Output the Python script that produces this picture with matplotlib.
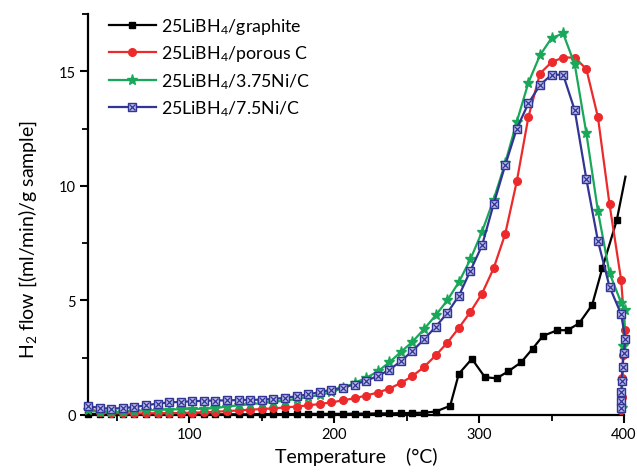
import matplotlib
matplotlib.use('Agg')
import matplotlib.pyplot as plt
from matplotlib.ticker import MultipleLocator

plt.rcParams['font.family'] = ['Lato', 'DejaVu Sans']
plt.rcParams['mathtext.fontset'] = 'custom'
plt.rcParams['mathtext.rm'] = 'Lato'
plt.rcParams['mathtext.it'] = 'Lato:italic'

# Temperature grid shared by the three carbon/Ni samples (deg C)
temp = [30, 38, 46, 54, 62, 70, 78, 86, 94, 102, 110, 118, 126, 134, 142, 150,
        158, 166, 174, 182, 190, 198, 206, 214, 222, 230, 238, 246, 254, 262,
        270, 278, 286, 294, 302, 310, 318, 326, 334, 342, 350, 358, 366, 374,
        382, 390, 398]

porous_c = [0.3, 0.12, 0.08, 0.07, 0.07, 0.07, 0.08, 0.08, 0.09, 0.1, 0.12, 0.14,
            0.17, 0.2, 0.23, 0.26, 0.29, 0.33, 0.37, 0.42, 0.48, 0.55, 0.64, 0.73,
            0.85, 0.98, 1.15, 1.4, 1.7, 2.1, 2.6, 3.15, 3.8, 4.5, 5.3, 6.4, 7.9,
            10.2, 13.0, 14.9, 15.4, 15.6, 15.6, 15.1, 13.0, 9.2, 5.9]
ni375 = [0.2, 0.12, 0.12, 0.15, 0.18, 0.2, 0.22, 0.24, 0.25, 0.26, 0.27, 0.3,
         0.37, 0.42, 0.47, 0.52, 0.57, 0.63, 0.7, 0.78, 0.88, 1.0, 1.18, 1.4,
         1.62, 1.9, 2.3, 2.75, 3.2, 3.75, 4.35, 5.0, 5.8, 6.8, 8.0, 9.4, 11.0,
         12.8, 14.5, 15.7, 16.45, 16.65, 15.3, 12.3, 8.9, 6.2, 4.9]
ni75 = [0.4, 0.3, 0.28, 0.3, 0.35, 0.42, 0.5, 0.55, 0.57, 0.6, 0.62, 0.63, 0.64,
        0.65, 0.66, 0.67, 0.7, 0.75, 0.82, 0.9, 1.0, 1.1, 1.2, 1.33, 1.5, 1.7,
        1.97, 2.35, 2.8, 3.3, 3.85, 4.45, 5.2, 6.3, 7.4, 9.2, 10.9, 12.5, 13.6,
        14.4, 14.85, 14.85, 13.3, 10.3, 7.6, 5.6, 4.4]

# end-of-run tails (falling back to zero near 400 C)
porous_c_tail_t = [400.7, 399.5, 398.8, 398.3, 398.0]
porous_c_tail = [3.7, 2.6, 1.6, 0.8, 0.2]
ni375_tail_t = [400.5, 399.5, 398.8, 398.3]
ni375_tail = [4.6, 3.0, 1.5, 0.3]
ni75_tail_t = [401.0, 399.8, 399.0, 398.5, 398.2, 398.0, 398.0]
ni75_tail = [3.3, 2.7, 2.1, 1.5, 1.0, 0.6, 0.3]

# graphite sample
temp_graphite = [30, 38, 46, 54, 62, 70, 78, 86, 94, 102, 110, 118, 126, 134,
                 142, 150, 158, 166, 174, 182, 190, 198, 206, 214, 222, 230,
                 238, 246, 254, 262, 270, 280, 286, 295, 304, 312, 320, 329,
                 337, 344, 354, 361, 369, 378, 385, 395, 401]
graphite = [0.05, 0.03, 0.03, 0.03, 0.03, 0.03, 0.03, 0.03, 0.03, 0.03, 0.03,
            0.03, 0.03, 0.03, 0.03, 0.04, 0.04, 0.04, 0.04, 0.05, 0.05, 0.05,
            0.05, 0.06, 0.06, 0.07, 0.07, 0.08, 0.09, 0.1, 0.15, 0.4, 1.8, 2.45,
            1.65, 1.6, 1.9, 2.3, 2.9, 3.45, 3.7, 3.7, 4.0, 4.8, 6.4, 8.5, 10.4]

labels = ['25LiBH$_4$/graphite', '25LiBH$_4$/porous C',
          '25LiBH$_4$/3.75Ni/C', '25LiBH$_4$/7.5Ni/C']

black = '#000000'
red = '#ec2a2c'
green = '#19a75a'
blue = '#323596'

fig = plt.figure(figsize=(6.37, 4.77), dpi=100)
ax = fig.add_axes([88 / 637, 61 / 477, 536 / 637, 401 / 477])

l1, = ax.plot(temp_graphite, graphite, color=black, lw=1.6, marker='s', ms=4.5,
              markevery=list(range(len(graphite) - 1)), clip_on=False, zorder=3)
l2, = ax.plot(temp + porous_c_tail_t, porous_c + porous_c_tail, color=red, lw=1.6,
              marker='o', ms=5.5, clip_on=False, zorder=4)
l3, = ax.plot(temp + ni375_tail_t, ni375 + ni375_tail, color=green, lw=1.6,
              marker='*', ms=8, clip_on=False, zorder=5)
l4, = ax.plot(temp + ni75_tail_t, ni75 + ni75_tail, color=blue, lw=1.6,
              marker='s', ms=5.5, mfc='#b9bbe6', mec=blue, mew=1.0,
              clip_on=False, zorder=6)
l4x, = ax.plot(temp + ni75_tail_t, ni75 + ni75_tail, ls='none', marker='x',
               ms=4, mec=blue, mew=0.9, clip_on=False, zorder=7)

ax.set_xlim(30, 400)
ax.set_ylim(0, 17.5)
ax.xaxis.set_major_locator(MultipleLocator(100))
ax.xaxis.set_minor_locator(MultipleLocator(50))
ax.yaxis.set_major_locator(MultipleLocator(5))
ax.yaxis.set_minor_locator(MultipleLocator(2.5))

for s in ['top', 'right']:
    ax.spines[s].set_visible(False)
for s in ['left', 'bottom']:
    ax.spines[s].set_linewidth(1.6)

ax.tick_params(which='major', direction='out', length=6, width=1.5,
               labelsize=10.5, pad=3)
ax.tick_params(which='minor', direction='out', length=4, width=1.3)

ax.set_xlabel('Temperature    (°C)', fontsize=14, labelpad=4)
ax.set_ylabel('H$_2$ flow [(ml/min)/g sample]', fontsize=14)
ax.yaxis.set_label_coords(-0.092, 0.44)

ax.legend([l1, l2, l3, (l4, l4x)], labels, loc='upper left',
          bbox_to_anchor=(0.01, 1.035), frameon=False, fontsize=12.8,
          handlelength=2.6, handletextpad=0.3, labelspacing=0.42)

plt.savefig('out.png', dpi=100)
